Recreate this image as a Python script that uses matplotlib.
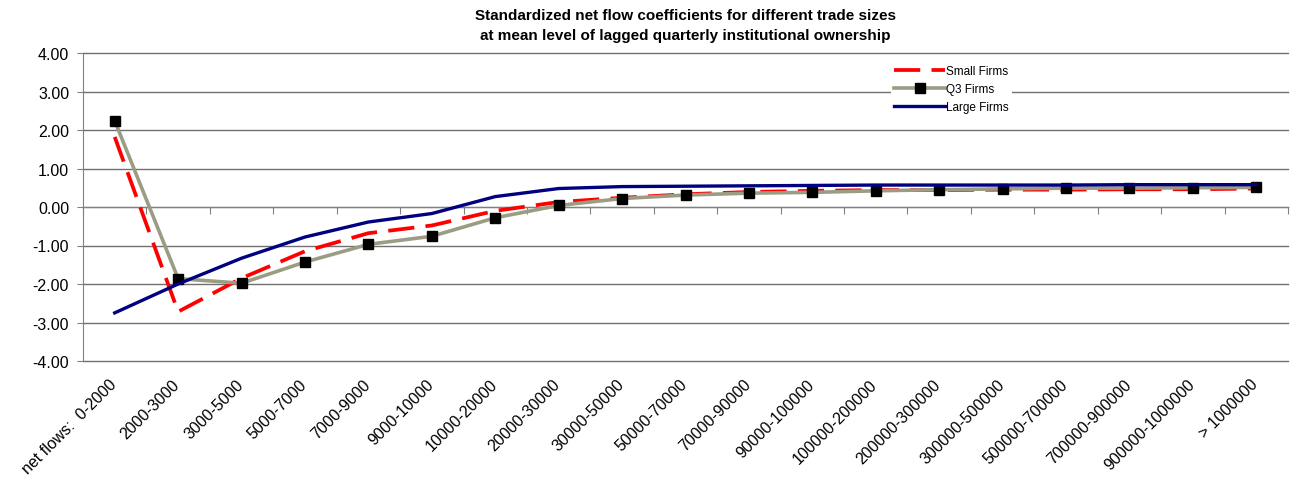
import numpy as np
import matplotlib.pyplot as plt
import matplotlib.transforms as mtransforms
from matplotlib.ticker import FormatStrFormatter

plt.rcParams['font.family'] = ['Liberation Sans', 'DejaVu Sans']

# Trade size buckets
sizes = ['net flows:  0-2000', '2000-3000', '3000-5000', '5000-7000', '7000-9000',
         '9000-10000', '10000-20000', '20000-30000', '30000-50000', '50000-70000',
         '70000-90000', '90000-100000', '100000-200000', '200000-300000',
         '300000-500000', '500000-700000', '700000-900000', '900000-1000000',
         '> 1000000']

# Standardized coefficients
small = [1.82, -2.72, -1.85, -1.15, -0.68, -0.48, -0.10, 0.13, 0.24, 0.33,
         0.39, 0.42, 0.44, 0.44, 0.45, 0.45, 0.46, 0.46, 0.48]
q3 = [2.24, -1.86, -1.98, -1.43, -0.97, -0.76, -0.28, 0.04, 0.22, 0.31,
      0.36, 0.38, 0.42, 0.45, 0.47, 0.49, 0.49, 0.50, 0.51]
large = [-2.75, -2.00, -1.33, -0.78, -0.39, -0.17, 0.27, 0.48, 0.53, 0.54,
         0.55, 0.56, 0.57, 0.57, 0.57, 0.57, 0.58, 0.58, 0.58]

x = np.arange(len(sizes))

fig = plt.figure(figsize=(12.91, 4.85), dpi=100)
ax = fig.add_axes([83/1291, 1-362/485, (1288-83)/1291, (362-54)/485])

ax.plot(x, small, color='#ff0000', lw=2.7, dashes=(7, 3), label='Small Firms', zorder=3)
ax.plot(x, q3, color='#9c9c84', lw=2.6, marker='s', ms=6.5, mfc='black', mec='black',
        label='Q3 Firms', zorder=4)
ax.plot(x, large, color='#000080', lw=2.4, label='Large Firms', zorder=5)

ax.set_xlim(-0.5, len(sizes) - 0.5)
ax.set_ylim(-4, 4)
ax.set_yticks(np.arange(-4, 5, 1))
ax.yaxis.set_major_formatter(FormatStrFormatter('%.2f'))
ax.grid(axis='y', color='#707070', lw=1)
for gl in ax.get_ygridlines():
    gl.set_clip_on(False)
ax.set_axisbelow(True)

for s in ['top', 'right']:
    ax.spines[s].set_visible(False)
ax.spines['left'].set_color('#808080')
ax.spines['bottom'].set_position(('data', 0))
ax.spines['bottom'].set_color('#808080')
ax.set_xticks(np.arange(len(sizes) + 1) - 0.5)
ax.tick_params(axis='x', labelbottom=False, length=5, color='#808080', direction='out')
ax.tick_params(axis='y', length=4, color='#808080', labelsize=11.5, pad=6)

sec = ax.secondary_xaxis('bottom')
sec.set_xticks(x)
sec.set_xticklabels(sizes, rotation=45, ha='right', va='top', rotation_mode='anchor', fontsize=11.5)
sec.tick_params(length=0, pad=11)
sec.spines['bottom'].set_visible(False)
shift = mtransforms.ScaledTranslation(-6/100, 0, fig.dpi_scale_trans)
for lbl in sec.get_xticklabels():
    lbl.set_transform(lbl.get_transform() + shift)

ax.set_title('Standardized net flow coefficients for different trade sizes\n'
             'at mean level of lagged quarterly institutional ownership',
             fontsize=11, fontweight='bold', pad=10, linespacing=1.6)

leg = ax.legend(loc='upper left', bbox_to_anchor=(885/1291, 1-57/485),
                bbox_transform=fig.transFigure, fontsize=8.5, frameon=True,
                facecolor='white', edgecolor='none', framealpha=1,
                handlelength=4.3, handletextpad=0.05, labelspacing=0.5,
                borderpad=0.3, fancybox=False)

plt.savefig('out.png', dpi=100)
